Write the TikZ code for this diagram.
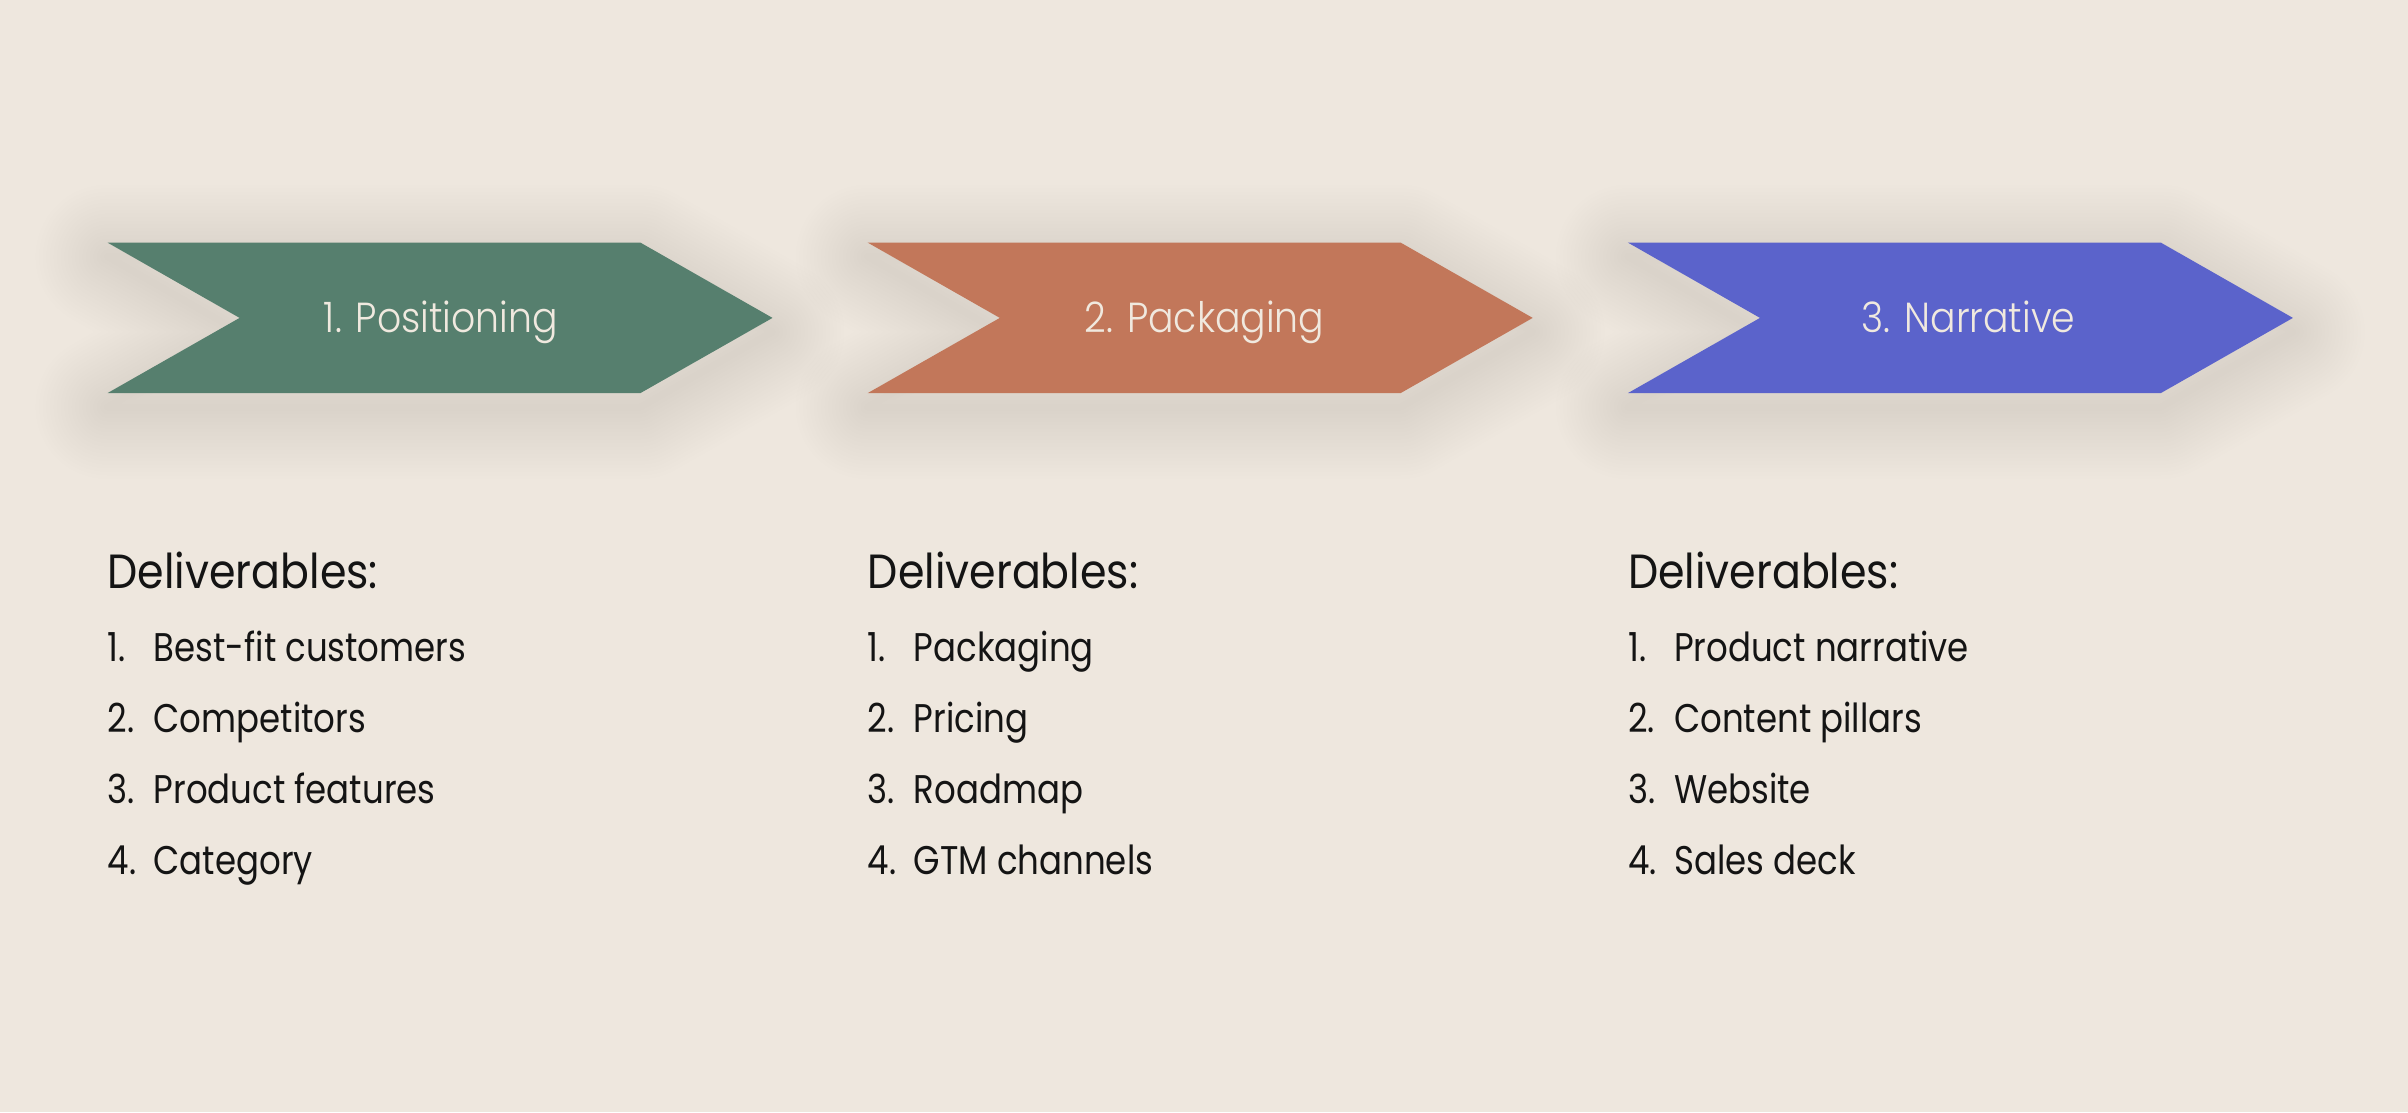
\documentclass[tikz,border=0pt]{standalone}
\usepackage{fontspec}
\setmainfont{Poppins}
\newfontfamily\headfont[FakeStretch=0.89]{Poppins}
\newfontfamily\itemfont[FakeStretch=0.85]{Poppins}
\newfontfamily\chevfont[FakeStretch=0.9]{Poppins Light}
\definecolor{bg}{HTML}{EEE7DE}
\definecolor{cgreen}{HTML}{567F6E}
\definecolor{corange}{HTML}{C2775A}
\definecolor{cblue}{HTML}{5B63CB}
\definecolor{ctext}{HTML}{F0E9DF}
\definecolor{cink}{HTML}{141414}
\definecolor{shad}{HTML}{6B5440}
\newcommand\chevshape{(107.5,242.6) -- (640.4,242.6) -- (772.5,317.9) -- (640.4,393.1) -- (107.5,393.1) -- (239.6,317.9) -- cycle}
\tikzset{
  chevlabel/.style={text=ctext, inner sep=0pt, anchor=base, font=\chevfont\fontsize{42}{50}\selectfont},
  headtext/.style={text=cink, inner sep=0pt, anchor=base west, font=\headfont\fontsize{48}{56}\selectfont},
  itemtext/.style={text=cink, inner sep=0pt, anchor=base west, font=\itemfont\fontsize{40}{48}\selectfont},
}
\newcommand\numbox[1]{\makebox[46pt][l]{#1}}
\newcommand\chevron[2]{%
  \begin{scope}[shift={(#1,0)}]
    \begin{scope}[shift={(0,14)}]
      \foreach \k in {1,...,20}{
        \draw[shad, opacity=0.004, line width=\k*7.2, line join=round] \chevshape;
      }
    \end{scope}
    \fill[#2] \chevshape;
  \end{scope}}
\begin{document}
\begin{tikzpicture}[x=1pt,y=-1pt]
\fill[bg] (0,0) rectangle (2408,1112);
\useasboundingbox (0,0) rectangle (2408,1112);
\chevron{0}{cgreen}
\chevron{760.2}{corange}
\chevron{1520.4}{cblue}
\node[chevlabel] (l1) at (440.8,332) {1. Positioning};
\node[chevlabel] (l2) at (1204.5,332) {2. Packaging};
\node[chevlabel] (l3) at (1968.5,332) {3. Narrative};
% column 1
\node[headtext] (h1) at (107.5,588) {Deliverables:};
\node[itemtext] (a1) at (107.5,661.7) {\numbox{1.}Best-fit customers};
\node[itemtext] (a2) at (107.5,732.5) {\numbox{2.}Competitors};
\node[itemtext] (a3) at (107.5,803.3) {\numbox{3.}Product features};
\node[itemtext] (a4) at (107.5,874) {\numbox{4.}Category};
% column 2
\node[headtext] (h2) at (867.7,588) {Deliverables:};
\node[itemtext] (b1) at (867.7,661.7) {\numbox{1.}Packaging};
\node[itemtext] (b2) at (867.7,732.5) {\numbox{2.}Pricing};
\node[itemtext] (b3) at (867.7,803.3) {\numbox{3.}Roadmap};
\node[itemtext] (b4) at (867.7,874) {\numbox{4.}GTM channels};
% column 3
\node[headtext] (h3) at (1627.9,588) {Deliverables:};
\node[itemtext] (c1) at (1627.9,661.7) {\numbox{1.}Product narrative};
\node[itemtext] (c2) at (1627.9,732.5) {\numbox{2.}Content pillars};
\node[itemtext] (c3) at (1627.9,803.3) {\numbox{3.}Website};
\node[itemtext] (c4) at (1627.9,874) {\numbox{4.}Sales deck};
\end{tikzpicture}
\end{document}
